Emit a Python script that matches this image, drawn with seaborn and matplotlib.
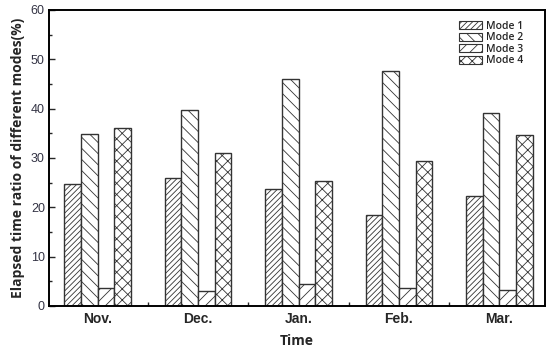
import matplotlib
matplotlib.use("Agg")
import matplotlib.pyplot as plt
import seaborn as sns
import pandas as pd
from matplotlib.ticker import MultipleLocator, FixedLocator
from matplotlib.patches import Patch

months = ["Nov.", "Dec.", "Jan.", "Feb.", "Mar."]
modes = ["Mode 1", "Mode 2", "Mode 3", "Mode 4"]
mode1 = [24.8, 25.9, 23.8, 18.4, 22.3]
mode2 = [34.9, 39.7, 46.0, 47.7, 39.2]
mode3 = [3.7, 3.0, 4.4, 3.6, 3.3]
mode4 = [36.0, 31.1, 25.3, 29.4, 34.6]
hatches = ["//////", "\\\\\\", "///", "xxx"]

rows = []
for name, vals in zip(modes, [mode1, mode2, mode3, mode4]):
    for m, v in zip(months, vals):
        rows.append({"Time": m, "Mode": name, "Value": v})
df = pd.DataFrame(rows)

sns.set_style("ticks")
plt.rcParams["hatch.linewidth"] = 0.6
plt.rcParams["font.family"] = ["Liberation Sans", "DejaVu Sans"]

fig = plt.figure(figsize=(5.5, 3.57), dpi=100)
ax = fig.add_axes([49/550, 51/357, 496/550, 296/357])

sns.barplot(data=df, x="Time", y="Value", hue="Mode", order=months, hue_order=modes,
            width=0.66, palette=["white"]*4, edgecolor="#333333", linewidth=1.0,
            ax=ax, legend=False)

for cont, h in zip(ax.containers, hatches):
    for bar in cont:
        bar.set_hatch(h)
        bar.set_facecolor("white")
        bar.set_edgecolor("#333333")

ax.set_ylim(0, 60)
ax.set_xlim(-0.483, 4.453)
ax.yaxis.set_major_locator(MultipleLocator(10))
ax.yaxis.set_minor_locator(MultipleLocator(5))
ax.xaxis.set_minor_locator(FixedLocator([0.5, 1.5, 2.5, 3.5]))
ax.tick_params(axis="y", which="major", direction="in", length=4, width=1, labelsize=9, labelcolor="#333344", pad=3)
ax.tick_params(axis="y", which="minor", direction="in", length=2, width=1)
ax.tick_params(axis="x", which="major", length=0, pad=4)
ax.tick_params(axis="x", which="minor", direction="in", length=3, width=1)
for lab in ax.get_xticklabels():
    lab.set_fontweight("bold")
    lab.set_fontsize(10)
for sp in ax.spines.values():
    sp.set_linewidth(1.4)
    sp.set_color("black")

ax.set_xlabel("Time", fontsize=10, fontweight="bold", family=["Open Sans", "DejaVu Sans"], labelpad=6)
ax.set_ylabel("Elapsed time ratio of different modes(%)", fontsize=10, fontweight="bold",
              family=["Open Sans", "DejaVu Sans"], labelpad=4)

handles = [Patch(facecolor="white", edgecolor="#333333", hatch=h, linewidth=0.8) for h in hatches]
ax.legend(handles, modes, loc="upper right", bbox_to_anchor=(0.975, 0.995), frameon=False,
          prop={"family": ["Open Sans", "DejaVu Sans"], "size": 7.5, "weight": "semibold"},
          handlelength=2.2, handleheight=0.8, labelspacing=0.05, handletextpad=0.4)

fig.savefig("out.png", dpi=100)
